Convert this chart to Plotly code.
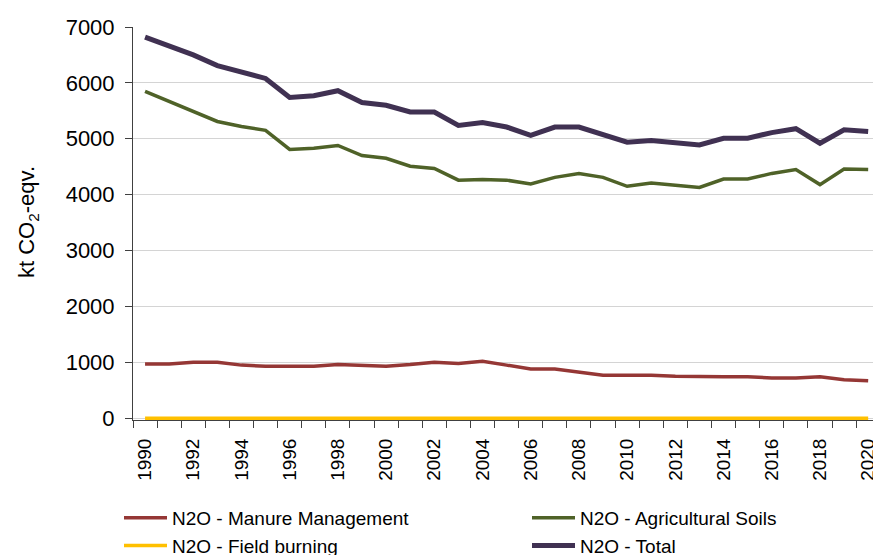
import plotly.graph_objects as go

years = list(range(1990, 2021))

manure_management = [970, 970, 1000, 1000, 950, 930, 930, 930, 960, 950,
                     930, 960, 1000, 980, 1020, 950, 880, 880, 830, 770,
                     770, 770, 750, 740, 740, 740, 720, 720, 740, 690, 670]

agricultural_soils = [5850, 5670, 5480, 5310, 5220, 5150, 4810, 4830, 4880, 4700,
                      4650, 4510, 4470, 4260, 4270, 4260, 4190, 4310, 4380, 4310,
                      4150, 4210, 4170, 4130, 4280, 4280, 4380, 4450, 4180, 4460, 4450]

field_burning = [1] * 31

total = [6820, 6670, 6500, 6310, 6190, 6080, 5740, 5770, 5860, 5650,
         5600, 5480, 5480, 5240, 5290, 5210, 5060, 5210, 5210, 5080,
         4940, 4970, 4920, 4890, 5010, 5010, 5110, 5180, 4920, 5160, 5130]

label_years = list(range(1990, 2021, 2))

series = [
    ("N2O - Manure Management", manure_management, "#953735", 3.5),
    ("N2O - Agricultural Soils", agricultural_soils, "#4F6228", 3.5),
    ("N2O - Field burning", field_burning, "#FFC000", 3.5),
    ("N2O - Total", total, "#403152", 5),
]

W, H = 873, 555
ML, MR, MT, MB = 133, 0, 27, 135
PW, PH = W - ML - MR, H - MT - MB
Y_BOTTOM = H - MB  # pixel row of the plot area's lower edge

fig = go.Figure()
for name, vals, color, width in series:
    fig.add_trace(go.Scatter(
        x=years, y=vals, name=name, mode="lines",
        line=dict(color=color, width=width),
    ))

fig.update_layout(
    width=W, height=H,
    margin=dict(l=ML, r=MR, t=MT, b=MB, pad=0, autoexpand=False),
    plot_bgcolor="white", paper_bgcolor="white",
    font=dict(family="Liberation Sans, Arial, sans-serif", color="black", size=19),
    showlegend=True,
    legend=dict(
        orientation="h",
        x=(119 - ML) / PW, xanchor="left",
        y=-(499 - Y_BOTTOM) / PH, yanchor="top",
        itemwidth=43,
        entrywidth=350, entrywidthmode="pixels",
        font=dict(size=19),
        tracegroupgap=0,
        bgcolor="rgba(0,0,0,0)",
    ),
    xaxis=dict(
        range=[1989.5, 2020.2],
        tickmode="array",
        tickvals=label_years,
        ticktext=[str(y) for y in label_years],
        tickangle=-90,
        ticks="",
        tickfont=dict(size=19),
        ticklabeloverflow="allow",
        showgrid=False,
        showline=True, linecolor="#404040", linewidth=1,
        zeroline=False,
        layer="below traces",
        minor=dict(
            tickvals=[y - 0.5 for y in years] + [2020.5],
            ticks="outside", ticklen=7, tickcolor="#404040", tickwidth=1,
            showgrid=False,
        ),
        ticklabelstandoff=10,
        automargin=False,
    ),
    yaxis=dict(
        range=[-32, 7000],
        tickmode="array",
        tickvals=list(range(0, 7001, 1000)),
        ticks="outside", ticklen=7, tickcolor="#404040", tickwidth=1,
        tickfont=dict(size=22),
        showgrid=True, gridcolor="#d4d4d4", gridwidth=1,
        showline=True, linecolor="#404040", linewidth=1,
        zeroline=False,
        layer="below traces",
        ticklabelstandoff=6,
        automargin=False,
    ),
    annotations=[dict(
        text="kt CO<sub>2</sub>-eqv.",
        xref="paper", yref="paper",
        x=(28 - ML) / PW, y=(Y_BOTTOM - 222) / PH,
        xanchor="center", yanchor="middle",
        textangle=-90, showarrow=False,
        font=dict(size=22, color="black"),
    )],
)

fig.write_html("out.html")
